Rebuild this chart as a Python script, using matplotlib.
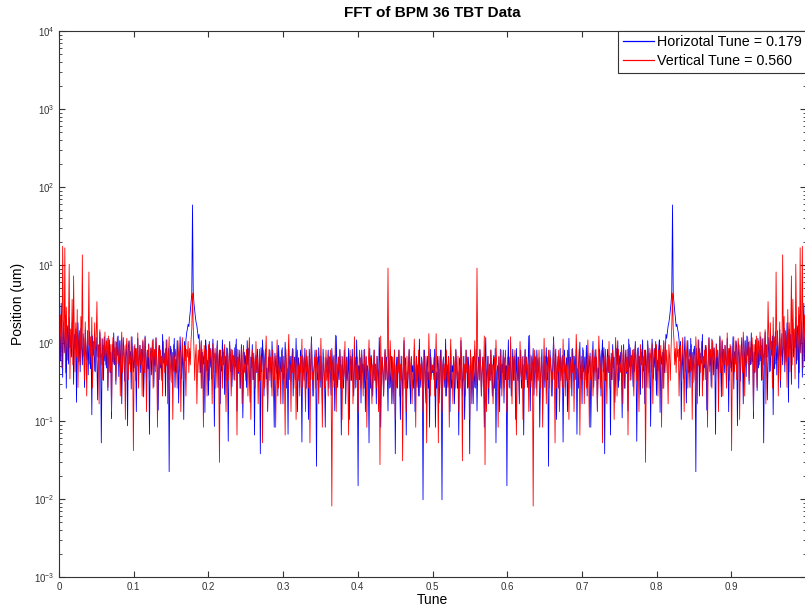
import numpy as np
import matplotlib
matplotlib.use('Agg')
import matplotlib.pyplot as plt
from matplotlib.ticker import LogLocator, NullFormatter

plt.rcParams['font.family'] = ['Liberation Sans', 'DejaVu Sans']
plt.rcParams['mathtext.default'] = 'regular'

# FFT magnitude, first half of the spectrum (bins 0..512 of 1024),
# as log10(position / um) in tenths of a decade.
# The spectrum of real TBT data is mirrored about tune 0.5.
n_turns = 1024

horiz_half = [
    4.2, 0.8, -2.3, 5.1, 1.6, -4.4, 2.7, 0.3, -1.2, 3.6, -5.8, 1.4, 2.2, -2.7, 3.3, -0.6,
    0.4, -1.8, 2.5, 2.9, -5.3, 1.1, -0.7, 1.8, -7.6, 0.2, 2.6, -2.4, 1.3, -3.7, 1.9, -0.3,
    -2.8, 1.2, -0.4, -5.7, 1.7, -1.3, -2.2, 0.6, -4.1, 0.3, 1.5, -3.3, -0.8, -9.2, 0.9, -1.6,
    0.2, -3.6, -1.4, 0.7, -2.6, -7.3, -0.3, -1.9, 1.4, -1.1, -12.8, -2.7, 0.5, -4.8, 0.8, -2.3,
    -0.9, -3.2, 0.6, -6.1, -1.7, 0.4, -3.8, -1.2, -9.7, -0.2, -2.4, 1.3, -2.8, -0.6, -5.3, 0.1,
    -1.6, 0.9, -4.3, -0.8, -3.1, 0.3, -7.8, -2.2, 0.7, -1.4, -4.9, -2.6, -0.2, -1.8, -10.6, -0.5,
    0.3, -2.7, -1.1, -5.9, 0.8, -2.3, -3.7, -0.4, -3.2, -0.7, -8.8, -1.9, 0.6, -4.6, -2.1, -0.3,
    -3.8, -0.8, -2.4, 0.2, -6.9, -2.8, 0.9, -1.6, -5.2, -1.1, -3.3, -0.1, -11.7, -2.2, -0.6, -4.1,
    -1.8, 0.5, -5.6, -1.2, -2.9, 0.7, -2.3, -3.7, -8.6, -0.8, -0.3, -3.2, -1.7, -4.8, 1.1, -2.4,
    -2.7, -1.3, -6.8, 0.4, -2.2, -3.9, -0.7, -16.5, -2.8, -0.4, -1.6, -5.1, -1.2, -3.4, 0.6, -5.7,
    -2.1, -3.8, 0.3, -1.4, -7.7, -2.6, 0.8, -1.7, -4.6, -0.9, -3.2, -9.8, 0.2, -2.3, 0.4, 1.3,
    1.8, 2.4, 2.1, 3.2, 4.1, 5.2, 6.3, 17.7, 6.6, 5.1, 4.2, 3.3, 2.6, 2.2, 1.4, 0.6,
    1.1, -1.7, -3.8, 0.3, -5.8, -1.2, -2.7, -1.6, -8.9, 0.4, -0.8, -3.6, -2.2, -6.7, 0.2, -3.1,
    -0.7, -4.6, -1.8, 0.5, -2.9, -10.7, -1.3, -3.8, -1.6, 0.3, -5.7, -2.6, -0.9, -7.8, -2.3, -3.6,
    0.4, -2.8, -1.2, -6.6, -1.7, -4.8, -0.6, -3.3, -12.6, -2.1, 0.2, -3.7, -0.8, -5.6, -2.9, -1.6,
    -4.7, -0.6, -3.1, 0.5, -8.7, -1.8, -3.9, -0.9, -2.7, -5.8, -0.2, -2.3, -9.6, -3.7, -1.2, -2.8,
    -1.6, -5.7, 0.3, -2.8, -0.7, -3.9, -7.6, -1.8, -3.2, -0.2, -4.7, -1.3, -11.8, -2.7, -1.6, -3.8,
    -0.8, -3.2, -4.8, -1.7, -14.2, -0.6, -3.7, 0.4, -2.6, -6.8, -1.9, -0.8, -4.6, -3.2, -8.7, -1.8,
    -3.7, -0.9, -2.8, -5.7, 0.2, -2.2, -4.8, -10.8, -1.3, -2.7, -3.9, -1.6, -6.8, -0.3, -3.1, -4.7,
    -1.8, -3.7, -0.6, -7.8, -2.8, -4.6, 0.1, -2.2, -5.8, -3.3, -11.7, -0.8, -3.8, -1.7, -4.9, -2.6,
    -0.7, -6.8, -3.1, -1.8, -4.7, 0.6, -3.7, -8.8, -1.9, -2.8, -5.7, -0.9, -3.8, -12.7, -1.6, -3.2,
    -4.8, -0.7, -2.9, -5.8, -1.7, -3.6, -9.8, -0.8, -2.7, -4.7, 0.8, -2.1, -6.8, -3.7, -2.8, -0.9,
    -3.8, -15.8, -1.8, -4.7, -0.6, -2.8, -5.7, -1.7, -3.9, -7.8, -0.8, -3.2, -4.8, -10.8, -1.9, -3.7,
    -2.7, -0.9, -5.8, -1.8, -3.8, -6.7, -0.7, -2.9, -4.8, -1.6, -8.7, -3.8, 0.9, -3.1, -5.7, -1.8,
    -4.7, -0.8, -2.8, -11.8, -1.7, -3.9, -5.8, -0.9, -2.7, -7.8, -1.8, -4.8, -3.7, -0.7, -9.8, -2.8,
    -1.7, -4.8, -0.8, -3.7, -6.8, -2.8, -1.8, -5.7, 0.4, -3.8, -18.3, -2.9, -4.7, -1.9, -7.7, -0.9,
    -3.8, -2.7, -5.8, -0.8, -8.8, -1.8, -4.7, -2.9, -3.7, -12.8, -0.7, -5.8, -1.6, -2.8, -6.8, -3.9,
    -0.9, -4.8, -2.7, -7.8, -1.7, -3.8, -5.8, 0.7, -2.9, -10.8, -4.7, -1.8, -3.7, -6.8, -2.8, -0.8,
    -4.7, -1.8, -3.8, -8.7, -0.8, -2.9, -5.7, -3.7, -1.7, -4.8, -7.8, -2.8, -0.9, -14.2, -3.8, -1.8,
    -5.8, -2.7, -0.9, -4.8, -9.8, -1.7, -3.8, -6.8, -2.9, 0.3, -4.7, -1.9, -11.8, -3.7, -5.8, -2.8,
    -0.8, -4.7, -7.8, -1.8, -3.7, -2.9, -5.8, -0.9, -8.8, -3.8, -1.7, -4.8, -2.8, -6.8, 0.5, -3.9,
    -5.7, -1.8, -2.9, -20.1, -3.8, -0.9, -4.8, -7.7, -2.8, -1.7, -5.8, -3.7, -10.8, -0.8, -4.7, -2.9,
    -3.8,
]

vert_half = [
    1.7, -2.3, 3.6, 0.8, -3.2, 12.4, 2.6, -1.3, 12.2, -3.8, 4.6, 0.3, -2.2, 2.7, 10.1, -4.6,
    1.8, -0.7, 5.6, -2.8, 8.6, 0.7, -3.7, 2.6, -1.8, 4.3, -5.7, 0.2, 1.6, -2.8, 3.4, -0.8,
    11.3, -1.7, 0.6, -4.8, 2.7, -1.2, -6.8, 1.6, -0.3, 9.1, -2.7, 0.8, -1.8, 3.3, -5.8, 0.2,
    -0.8, 2.6, -3.7, 0.7, 5.3, -1.8, -0.2, -7.8, 1.7, -1.2, -2.8, 0.6, -4.7, -0.3, -1.7, 1.4,
    -2.8, 0.3, -0.8, -5.7, 0.9, -1.8, -3.7, -0.2, -8.8, -1.2, 0.7, -2.7, -1.6, 0.2, -4.8, -0.7,
    0.8, -2.7, -1.8, 0.3, -6.8, -0.9, 1.4, -3.8, -1.7, -0.3, -2.8, -9.8, -0.8, 0.6, -1.9, -4.7,
    0.2, -1.8, -3.7, 0.8, -0.9, -2.8, -13.8, -1.7, -0.2, -4.8, -0.7, -2.9, 1.3, -5.8, -1.8, -0.3,
    -2.8, -0.8, -6.8, 0.4, -1.7, -3.8, 0.7, -2.9, -8.8, -0.9, -1.8, -0.2, -4.8, -2.7, -0.7, -1.9,
    0.3, -5.8, -1.8, -0.8, -3.7, 0.6, -2.8, -10.8, -1.7, -0.3, -4.7, -0.9, -2.8, -1.8, -6.8, 0.2,
    -1.8, -3.8, -0.7, -2.9, 0.4, -7.8, -1.7, 0.8, -4.8, -2.7, -0.8, -1.9, -9.8, -0.2, -3.7, -1.8,
    -0.8, -2.8, -5.8, 0.3, -1.8, -3.7, -0.9, -8.8, -2.7, 0.7, -1.7, -4.8, -0.3, -2.9, -6.8, -0.8,
    -1.8, 0.2, -3.8, -0.7, -2.8, 0.4, 1.8, 6.4, 2.2, -0.8, -4.8, -1.7, -0.2, -7.8, -2.8, -0.9,
    -3.8, 0.1, -1.7, -5.8, -0.8, -2.8, -10.8, -0.3, -1.8, -3.7, -0.9, -6.8, -2.7, -0.2, -4.8, -1.8,
    -0.8, -2.8, -7.8, -0.1, -3.7, -1.8, -0.7, -5.8, -2.9, -0.3, -1.7, -4.8, -15.3, -0.9, -2.8, -1.7,
    -5.8, -0.8, -2.8, -0.2, -3.8, -8.8, -1.8, -0.7, -4.8, -2.7, -0.3, -1.8, -6.8, -3.7, -0.9, -2.8,
    -1.7, -4.8, -0.2, -2.8, -11.8, -0.8, -3.7, -1.8, -5.8, -2.9, -0.7, -7.8, -1.8, -0.3, -3.8, -2.7,
    -4.8, -0.8, -2.8, -6.8, -1.7, 0.7, -3.8, -9.8, -2.7, -0.9, -4.7, -1.8, -2.9, -5.8, 0.2, -3.7,
    -1.8, -7.8, -2.8, -0.8, -4.8, -1.7, -3.8, -12.8, -0.9, -2.7, -5.8, -1.8, 0.9, -3.7, -8.8, -2.8,
    -0.8, -4.8, -1.8, -3.7, -6.8, -0.9, -2.8, -4.7, -1.7, -10.8, -3.8, 0.4, -2.7, -5.8, -1.8, -3.8,
    -7.8, -0.9, -2.8, -4.8, -1.7, -3.7, -11.8, -0.8, -2.9, -5.8, -1.8, 1.1, -4.7, -2.8, -8.8, -1.7,
    -3.8, -0.8, -5.8, -2.7, -1.8, -9.8, -3.7, -0.9, -4.8, -2.8, -6.8, -1.7, -3.8, 0.5, -5.7, -2.8,
    -1.8, -4.8, -8.8, -0.9, -3.7, -2.8, -5.8, -1.7, -12.8, -2.9, 0.3, -4.7, -3.8, -6.8, -1.8, -2.7,
    -5.8, -0.9, -3.8, -2.8, -7.8, -1.7, -4.8, 0.6, -3.7, -10.8, -2.8, -1.8, -5.8, -3.7, -0.9, -4.8,
    -2.8, -6.8, -1.7, -3.8, -0.9, -4.8, -20.9, -2.8, -1.8, -5.7, -3.8, 1.0, -8.8, -2.7, -4.8, -1.8,
    -3.7, -0.9, -5.8, -2.8, -9.8, -1.8, -4.7, -3.8, 0.2, -6.8, -2.7, -1.8, -4.8, -11.8, -2.9, -0.9,
    -4.8, -2.7, -1.8, -7.8, -3.8, 0.8, -5.8, -2.8, -4.7, -1.8, -8.8, -3.7, -0.9, -2.8, -5.8, -1.7,
    -3.8, -6.8, -0.9, -2.8, -4.8, -1.7, -10.8, -3.8, -2.7, 0.4, -5.8, -1.8, -4.7, -7.8, -2.8, -3.7,
    -0.9, -4.8, -2.8, -5.8, -1.7, -3.8, -8.8, -2.7, -15.6, 0.9, -4.8, -1.8, -3.7, -6.8, -2.8, -0.9,
    -4.8, -2.8, -1.7, 9.6, -3.8, -5.8, 0.3, -2.7, -7.8, -1.8, -4.8, -3.7, -0.9, -9.8, -2.8, -5.7,
    -1.8, -3.8, -0.9, -6.8, -2.7, -4.8, -1.7, -15.1, -3.8, 0.7, -5.8, -2.8, -8.8, -1.7, -4.8, -3.7,
    -0.9, -5.8, -2.8, -1.7, -7.8, -3.8, -4.7, 0.5, -2.8, -10.8, -1.8, -5.7, -3.8, -0.9, -6.8, -2.7,
    -4.8, -1.8, -3.7, -8.8, -0.9, -2.8, -5.8, -1.7, -12.8, -3.8, -4.7, 1.2, -2.8, -6.8, -1.8, -3.7,
    -2.8,
]

x_ticks = [0, 0.1, 0.2, 0.3, 0.4, 0.5, 0.6, 0.7, 0.8, 0.9]
x_tick_labels = ['0', '0.1', '0.2', '0.3', '0.4', '0.5', '0.6', '0.7', '0.8', '0.9']


def full_spectrum(half):
    half = np.array(half, dtype=float)
    full = np.concatenate([half, half[-2:0:-1]])
    return 10 ** (full / 10.0)


tune = np.arange(n_turns) / n_turns
horiz = full_spectrum(horiz_half)
vert = full_spectrum(vert_half)

fig = plt.figure(figsize=(8.05, 6.07), dpi=100)
ax = fig.add_axes([59 / 805, 30 / 607, 747 / 805, 546 / 607])

ax.semilogy(tune, horiz, color='b', lw=0.6, label='Horizotal Tune = 0.179')
ax.semilogy(tune, vert, color='r', lw=0.6, label='Vertical Tune = 0.560')

ax.set_xlim(0, 1)
ax.set_ylim(1e-3, 1e4)
ax.set_xticks(x_ticks)
ax.set_xticklabels(x_tick_labels)
ax.yaxis.set_major_locator(LogLocator(base=10, numticks=10))
ax.yaxis.set_minor_locator(LogLocator(base=10, subs=np.arange(2, 10), numticks=20))
ax.yaxis.set_minor_formatter(NullFormatter())

ax.tick_params(which='both', direction='in', top=True, right=True,
               labelsize=7, labelcolor='#333333', color='#333333')
ax.tick_params(which='major', length=4)
ax.tick_params(which='minor', length=2)
for s in ax.spines.values():
    s.set_color('#333333')
    s.set_linewidth(0.8)

ax.set_title('FFT of BPM 36 TBT Data', fontweight='bold', fontsize=11, pad=10)
ax.set_xlabel('Tune', fontsize=10, labelpad=1)
ax.set_ylabel('Position (um)', fontsize=10, labelpad=6)

leg = ax.legend(loc='upper right', borderaxespad=0, fancybox=False,
                edgecolor='#333333', fontsize=10.3, handlelength=2.2,
                handletextpad=0.2, framealpha=1, borderpad=0.3,
                labelspacing=0.35)
leg.get_frame().set_linewidth(0.8)
for line in leg.get_lines():
    line.set_linewidth(0.9)

fig.savefig('out.png', dpi=100)
